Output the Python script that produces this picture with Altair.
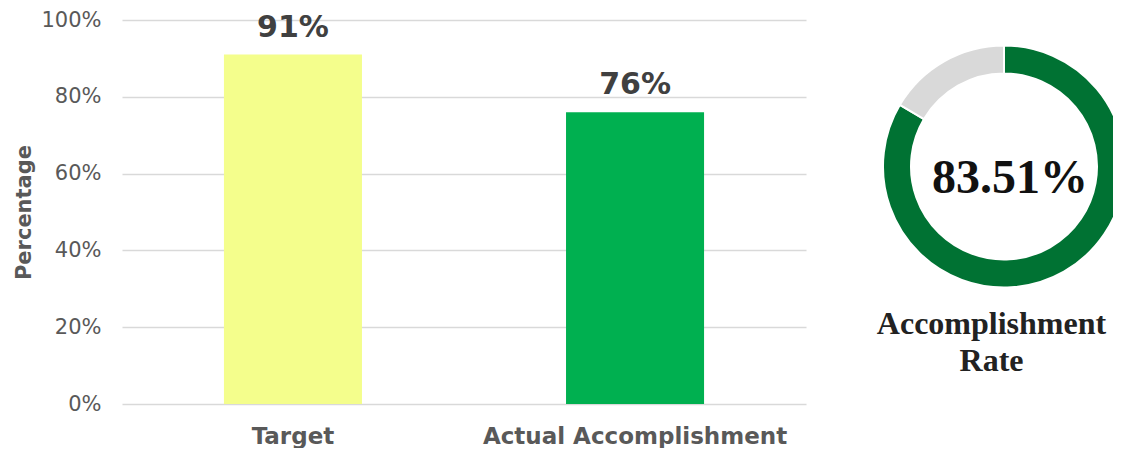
import altair as alt
import pandas as pd

categories = ["Target", "Actual Accomplishment"]
values = [91, 76]
bar_colors = ["#F4FE8C", "#00B050"]

rate = 83.51
donut_parts = ["Accomplished", "Remaining"]
donut_values = [rate, 100 - rate]
donut_colors = ["#007233", "#D9D9D9"]
rate_label = "83.51%"
donut_title = ["Accomplishment", "Rate"]

bars_df = pd.DataFrame({
    "category": categories,
    "value": values,
    "color": bar_colors,
    "label": [f"{v}%" for v in values],
})
donut_df = pd.DataFrame({
    "part": donut_parts,
    "value": donut_values,
    "color": donut_colors,
    "order": [0, 1],
})

W, H = 684, 384
AX = "DejaVu Sans"

x_enc = alt.X("category:N", sort=categories, title=None,
              scale=alt.Scale(paddingInner=0.5965, paddingOuter=0.298),
              axis=alt.Axis(labelFont=AX, labelFontSize=23, labelFontWeight="bold",
                            labelColor="#595959", labelPadding=21, ticks=False,
                            domain=False, labelAngle=0, labelLimit=0))
y_enc = alt.Y("value:Q", title="Percentage",
              scale=alt.Scale(domain=[0, 100]),
              axis=alt.Axis(values=[0, 20, 40, 60, 80, 100],
                            labelExpr="datum.value + '%'",
                            labelFont=AX, labelFontSize=21, labelColor="#595959",
                            labelPadding=21, ticks=False, domain=False,
                            grid=True, gridColor="#D9D9D9", gridWidth=1.5,
                            titleFont=AX, titleFontSize=21, titleFontWeight="bold",
                            titleColor="#595959", titleX=-98,
                            titleBaseline="middle"))

base = alt.Chart(bars_df)
bars = base.mark_bar().encode(
    x=x_enc, y=y_enc,
    color=alt.Color("color:N", scale=None),
)
bar_text = base.mark_text(font=AX, fontSize=30, fontWeight="bold",
                          color="#404040", baseline="bottom", dy=-12).encode(
    x=alt.X("category:N", sort=categories),
    y="value:Q",
    text="label:N",
)

cx, cy = 1004 - 122, 166.5 - 20
donut = alt.Chart(donut_df).mark_arc(radius=121, radius2=93, stroke="white",
                                     strokeWidth=2).encode(
    theta=alt.Theta("value:Q", stack=True),
    order=alt.Order("order:Q"),
    color=alt.Color("color:N", scale=None),
    x=alt.value(cx), y=alt.value(cy),
)
center_text = alt.Chart(pd.DataFrame({"t": [rate_label]})).mark_text(
    font="Liberation Serif", fontSize=48, fontWeight="bold", color="#111111",
    baseline="alphabetic", align="center").encode(
    text="t:N", x=alt.value(1010 - 122), y=alt.value(193 - 20))
title_text = alt.Chart(pd.DataFrame({"t": [donut_title]})).mark_text(
    font="Liberation Serif", fontSize=32, fontWeight="bold", color="#222222",
    baseline="alphabetic", align="center", lineHeight=37).encode(
    text="t", x=alt.value(991.5 - 122), y=alt.value(334 - 20))

chart = alt.layer(bars, bar_text, donut, center_text, title_text).properties(
    width=W, height=H,
    autosize=alt.AutoSizeParams(type="none"),
    padding={"left": 114, "top": 12, "right": 307, "bottom": 44},
).configure_view(stroke=None)

chart.save("out.html", embed_options={"renderer": "svg", "actions": False})
